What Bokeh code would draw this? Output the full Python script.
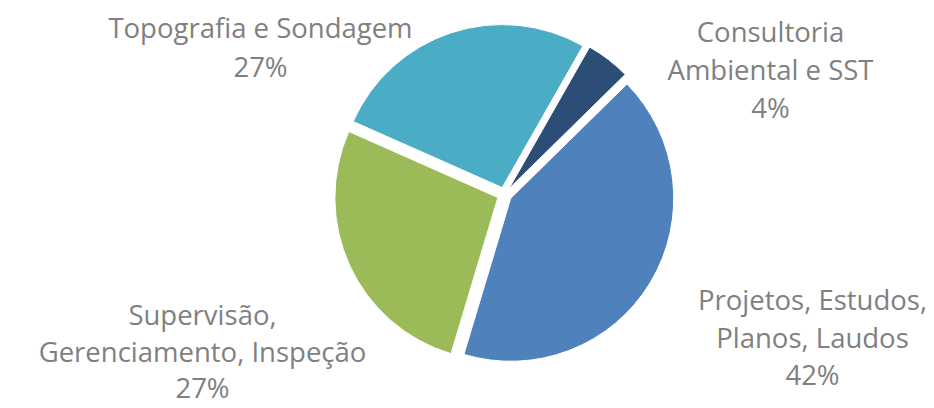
import math
from bokeh.plotting import figure
from bokeh.models import ColumnDataSource, Range1d
from bokeh.embed import file_html
from bokeh.resources import INLINE
from bokeh.core.properties import value

# ---- data ----
categories = ["Projetos, Estudos, Planos, Laudos",
              "Supervisão, Gerenciamento, Inspeção",
              "Topografia e Sondagem",
              "Consultoria Ambiental e SST"]
label_lines = [["Projetos, Estudos,", "Planos, Laudos"],
               ["Supervisão,", "Gerenciamento, Inspeção"],
               ["Topografia e Sondagem"],
               ["Consultoria", "Ambiental e SST"]]
shares = [42.0, 27.0, 26.6, 4.4]
colors = ["#4F81BD", "#9BBB59", "#4BACC6", "#2C4D75"]

# ---- layout (screen-pixel based data space) ----
W, H = 934, 408
CX, CY = 504, H - 194        # pie centre
R = 163                      # radius in px
EXPLODE = 7.3
START = 45.5                 # first slice angle, clockwise from 12 o'clock
TEXT_SHIFT = 11              # empirical baseline correction
LABEL_ANCHORS = [(812, 310, 37.5), (202, 325, 36.5), (260, 38, 39), (770, 42, 38)]

p = figure(width=W, height=H, output_backend="svg", toolbar_location=None,
           x_range=Range1d(0, W), y_range=Range1d(0, H),
           min_border=0, outline_line_color=None, background_fill_color="white",
           border_fill_color="white")
p.axis.visible = False
p.grid.visible = False

total = sum(shares)
xs, ys, sa, ea = [], [], [], []
acc = START
for s in shares:
    span = s / total * 360.0
    t1, t2 = acc, acc + span
    mid = math.radians((t1 + t2) / 2)
    xs.append(CX + EXPLODE * math.sin(mid))
    ys.append(CY + EXPLODE * math.cos(mid))
    sa.append(math.radians(90 - t2))
    ea.append(math.radians(90 - t1))
    acc = t2

src = ColumnDataSource(dict(x=xs, y=ys, start=sa, end=ea, color=colors, cat=categories))
p.wedge(x="x", y="y", radius=R, radius_units="screen", start_angle="start", end_angle="end",
        direction="anticlock", fill_color="color", line_color="white", line_width=1, source=src)

tx, ty, tt = [], [], []
for lines, s, (ax, ay, pitch) in zip(label_lines, shares, LABEL_ANCHORS):
    all_lines = lines + [f"{s:.0f}%"]
    for i, ln in enumerate(all_lines):
        tx.append(ax)
        ty.append(H - (ay + i * pitch) + TEXT_SHIFT)
        tt.append(ln)

p.text(x="x", y="y", text="t", source=ColumnDataSource(dict(x=tx, y=ty, t=tt)),
       text_align="center", text_baseline="alphabetic",
       text_font=value("Open Sans"), text_font_size="27.5px", text_color="#808080")

open("out.html", "w").write(file_html(p, INLINE))
